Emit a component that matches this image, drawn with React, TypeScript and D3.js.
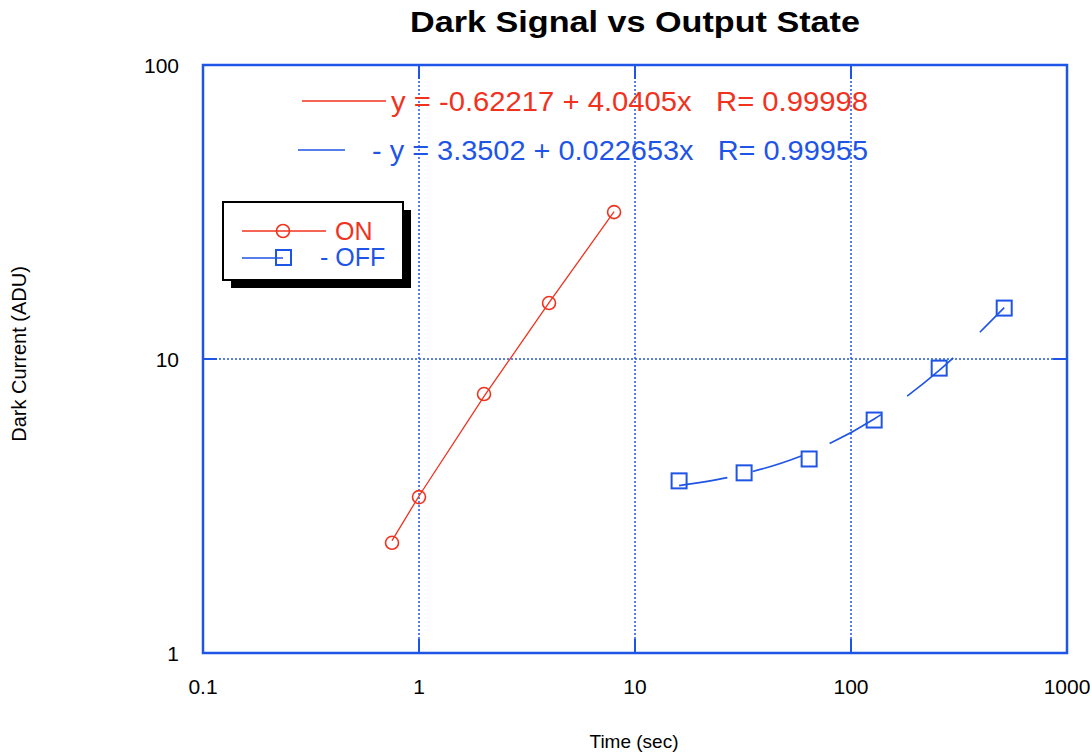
import React from "react";
import { scaleLog, line, curveMonotoneX } from "d3";

// measured points
const onTime = [0.75, 1, 2, 4, 8];
const onSignal = [2.37, 3.39, 7.6, 15.5, 31.6];
const offTime = [16, 32, 64, 128, 256, 512];
const offSignal = [3.85, 4.1, 4.57, 6.2, 9.31, 14.9];

// fit lines
const onFit = [2.41, 3.42, 7.46, 15.54, 31.7];
const offFit = [3.71, 4.07, 4.8, 6.25, 9.15, 14.95];

const xTicks = [0.1, 1, 10, 100, 1000];
const xTickLabels = ["0.1", "1", "10", "100", "1000"];
const yTicks = [1, 10, 100];
const yTickLabels = ["1", "10", "100"];

const onLabel = "y = -0.62217 + 4.0405x   R= 0.99998";
const offLabel = "- y = 3.3502 + 0.022653x   R= 0.99955";

const RED = "#f0321e";
const BLUE = "#1f55e6";
const FONT = "'Liberation Sans', Arial, Helvetica, sans-serif";

export default function App() {
  const width = 1091;
  const height = 755;
  const margin = { top: 65, right: 24, bottom: 102, left: 203 };

  const x = scaleLog().domain([0.1, 1000]).range([margin.left, width - margin.right]);
  const y = scaleLog().domain([1, 100]).range([height - margin.bottom, margin.top]);

  const x0 = x.range()[0], x1 = x.range()[1];
  const y0 = y.range()[0], y1 = y.range()[1];

  const onLine = line<number>()
    .x((d, i) => x(onTime[i]))
    .y(d => y(d));
  const offLine = line<number>()
    .x((d, i) => x(offTime[i]))
    .y(d => y(d))
    .curve(curveMonotoneX);

  const tickLen = 14;
  const pre = { whiteSpace: "pre" as const };

  return (
    <svg width={width} height={height} style={{ position: "absolute", left: 0, top: 0, background: "#fff" }}>
      <text x={635} y={32} textAnchor="middle" fontFamily={FONT} fontWeight="bold" fontSize={30}
        textLength={450} lengthAdjust="spacingAndGlyphs">
        Dark Signal vs Output State
      </text>

      {/* grid */}
      {xTicks.slice(1, -1).map(t => (
        <line key={"gx" + t} x1={x(t)} x2={x(t)} y1={y1} y2={y0} stroke={BLUE} strokeWidth={1.5} strokeDasharray="2,2" />
      ))}
      {yTicks.slice(1, -1).map(t => (
        <line key={"gy" + t} x1={x0} x2={x1} y1={y(t)} y2={y(t)} stroke={BLUE} strokeWidth={1.5} strokeDasharray="2,2" />
      ))}

      {/* inner ticks */}
      {xTicks.slice(1, -1).map(t => (
        <g key={"tx" + t} stroke={BLUE} strokeWidth={2}>
          <line x1={x(t)} x2={x(t)} y1={y0} y2={y0 - tickLen} />
          <line x1={x(t)} x2={x(t)} y1={y1} y2={y1 + tickLen} />
        </g>
      ))}
      {yTicks.slice(1, -1).map(t => (
        <g key={"ty" + t} stroke={BLUE} strokeWidth={2}>
          <line x1={x0} x2={x0 + tickLen} y1={y(t)} y2={y(t)} />
          <line x1={x1} x2={x1 - tickLen} y1={y(t)} y2={y(t)} />
        </g>
      ))}

      <rect x={x0} y={y1} width={x1 - x0} height={y0 - y1} fill="none" stroke={BLUE} strokeWidth={2.5} />

      {/* tick labels */}
      {xTicks.map((t, i) => (
        <text key={"lx" + t} x={x(t)} y={694} textAnchor="middle" fontFamily={FONT} fontSize={21}>
          {xTickLabels[i]}
        </text>
      ))}
      {yTicks.map((t, i) => (
        <text key={"ly" + t} x={179} y={y(t) + 8} textAnchor="end" fontFamily={FONT} fontSize={21}>
          {yTickLabels[i]}
        </text>
      ))}

      <text x={634} y={748} textAnchor="middle" fontFamily={FONT} fontSize={19}>Time (sec)</text>
      <text transform="translate(26,354) rotate(-90)" textAnchor="middle" fontFamily={FONT} fontSize={20}>
        Dark Current (ADU)
      </text>

      {/* fit lines */}
      <path d={onLine(onFit) ?? ""} fill="none" stroke={RED} strokeWidth={1.3} />
      <path d={offLine(offFit) ?? ""} fill="none" stroke={BLUE} strokeWidth={1.6}
        strokeDasharray="49,26,51,31,59,32,60,37,60" />

      {/* markers */}
      {onSignal.map((v, i) => (
        <circle key={"on" + i} cx={x(onTime[i])} cy={y(v)} r={6.5} fill="none" stroke={RED} strokeWidth={1.6} />
      ))}
      {offSignal.map((v, i) => (
        <rect key={"off" + i} x={x(offTime[i]) - 7.5} y={y(v) - 7.5} width={15} height={15}
          fill="none" stroke={BLUE} strokeWidth={2} />
      ))}

      {/* fit annotations */}
      <line x1={302} x2={386} y1={101} y2={101} stroke={RED} strokeWidth={1.5} />
      <text x={391} y={111} fontFamily={FONT} fontSize={28} fill={RED} style={pre}
        textLength={477} lengthAdjust="spacingAndGlyphs">
        {onLabel}
      </text>
      <line x1={298} x2={345} y1={150} y2={150} stroke={BLUE} strokeWidth={1.5} />
      <text x={372} y={160} fontFamily={FONT} fontSize={28} fill={BLUE} style={pre}
        textLength={496} lengthAdjust="spacingAndGlyphs">
        {offLabel}
      </text>

      {/* legend */}
      <rect x={231} y={210} width={180} height={78} fill="#000" />
      <rect x={223} y={202} width={180} height={78} fill="#fff" stroke="#000" strokeWidth={2} />
      <line x1={242} x2={326} y1={231} y2={231} stroke={RED} strokeWidth={1.5} />
      <circle cx={283} cy={231} r={6.5} fill="none" stroke={RED} strokeWidth={1.6} />
      <text x={335} y={240} fontFamily={FONT} fontSize={25} fill={RED}>ON</text>
      <line x1={242} x2={283} y1={258} y2={258} stroke={BLUE} strokeWidth={1.5} />
      <rect x={276} y={250} width={15} height={15} fill="none" stroke={BLUE} strokeWidth={2} />
      <text x={320} y={266} fontFamily={FONT} fontSize={25} fill={BLUE}>- OFF</text>
    </svg>
  );
}
